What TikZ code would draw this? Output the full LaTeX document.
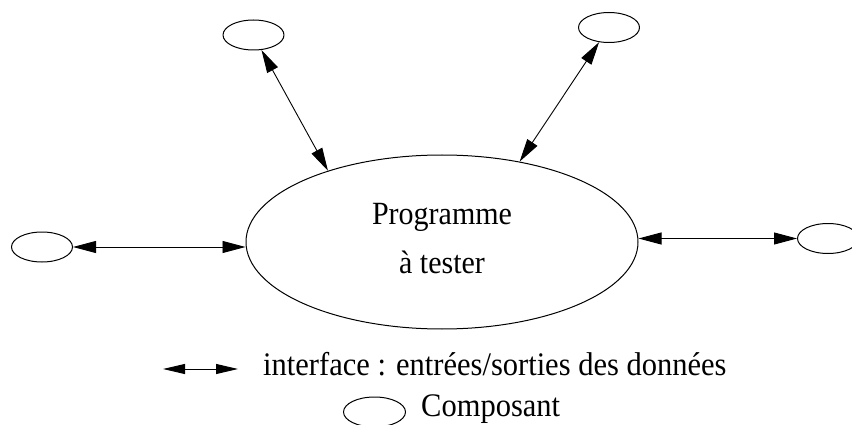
\documentclass[tikz,border=0pt]{standalone}
\usepackage{fontspec}
\setmainfont{Liberation Serif}
\usetikzlibrary{arrows.meta,shapes.geometric}
\newcommand{\etire}[1]{\scalebox{1}[1.08]{#1}}

\begin{document}
\begin{tikzpicture}[line cap=round,line join=round,x=1pt,y=-1pt,
	composant/.style={draw,ellipse,line width=1pt,inner sep=0pt,minimum width=61pt,minimum height=30pt},
	iface/.style={{Triangle[length=23pt,width=12pt]}-{Triangle[length=23pt,width=12pt]},line width=0.9pt},
	grand/.style={font=\fontsize{30}{36}\selectfont,inner sep=0pt,anchor=base},
	legende/.style={font=\fontsize{30.5}{36}\selectfont,inner sep=0pt,anchor=base west}]
	\useasboundingbox (0,0) rectangle (852,425);
	\clip (0,0) rectangle (852,425);
	% le programme
	\node[draw,ellipse,line width=1pt,inner sep=0pt,minimum width=392pt,minimum height=174pt] (prog) at (442,242) {};
	\node[grand] (progA) at (442,225) {\etire{Programme}};
	\node[grand] (progB) at (442,273) {\etire{à tester}};
	% les composants
	\node[composant] (cHG) at (253.5,35) {};
	\node[composant] (cHD) at (609,27.5) {};
	\node[composant] (cG) at (42,247) {};
	\node[composant] (cD) at (828,238.5) {};
	\draw[iface] (cHG.-62) -- (prog.148);
	\draw[iface] (cHD.-124) -- (prog.46);
	\draw[iface] (cG.east) -- (cG.east -| prog.west);
	\draw[iface] (prog.east |- cD.west) -- (cD.west);
	% legende
	\coordinate (lgA) at (163,369);
	\coordinate (lgB) at (238,369);
	\draw[{Triangle[length=22pt,width=10pt]}-{Triangle[length=22pt,width=10pt]},line width=0.9pt] (lgA) -- (lgB);
	\node[legende] (lgtxt) at (263,375) {\etire{interface : entrées/sorties des données}};
	\node[composant,minimum width=62pt] (lgC) at (374.5,412) {};
	\node[legende] (lgctxt) at (421,416) {\etire{Composant}};
\end{tikzpicture}
\end{document}
